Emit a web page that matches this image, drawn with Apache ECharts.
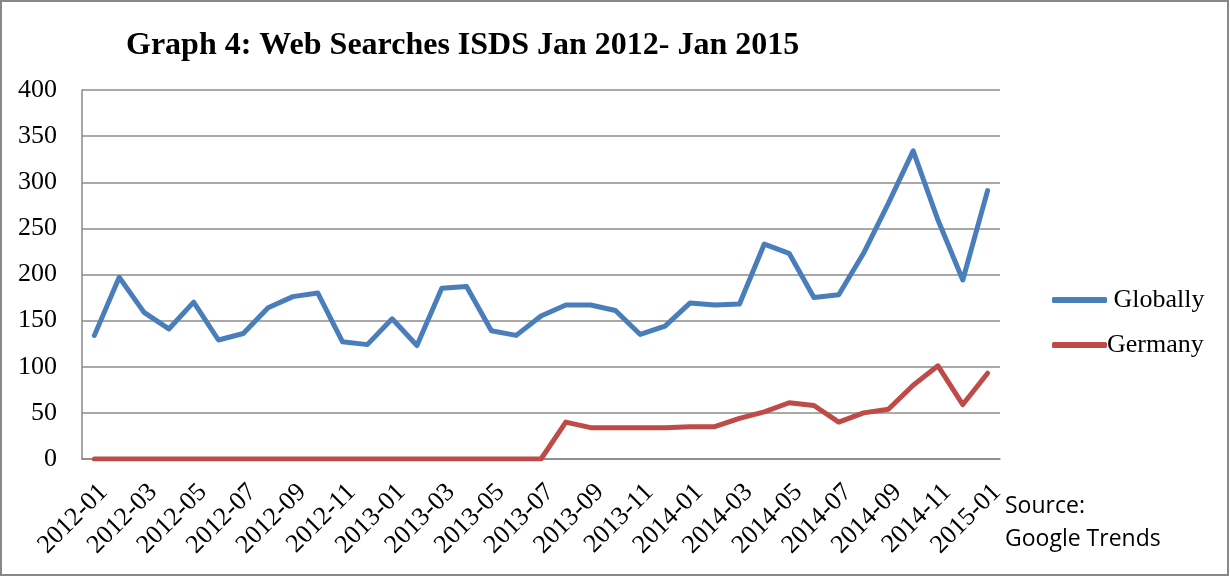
<!DOCTYPE html>
<html>
<head>
<meta charset="utf-8">
<script src="https://cdn.jsdelivr.net/npm/echarts@6/dist/echarts.min.js"></script>
<style>
  html, body { margin: 0; padding: 0; background: #fff; }
  #chart { width: 1230px; height: 577px; }
</style>
</head>
<body>
<div id="chart"></div>
<script>
// months 2012-01 .. 2015-01
var months = [
  '2012-01', '2012-02', '2012-03', '2012-04', '2012-05', '2012-06', '2012-07', '2012-08', '2012-09', '2012-10', '2012-11', '2012-12',
  '2013-01', '2013-02', '2013-03', '2013-04', '2013-05', '2013-06', '2013-07', '2013-08', '2013-09', '2013-10', '2013-11', '2013-12',
  '2014-01', '2014-02', '2014-03', '2014-04', '2014-05', '2014-06', '2014-07', '2014-08', '2014-09', '2014-10', '2014-11', '2014-12',
  '2015-01'
];
var globally = [
  134, 197, 159, 141, 170, 129, 136, 164, 176, 180, 127, 124,
  152, 123, 185, 187, 139, 134, 155, 167, 167, 161, 135, 144,
  169, 167, 168, 233, 223, 175, 178, 223, 277, 334, 259, 194,
  291
];
var germany = [
  0, 0, 0, 0, 0, 0, 0, 0, 0, 0, 0, 0,
  0, 0, 0, 0, 0, 0, 0, 40, 34, 34, 34, 34,
  35, 35, 44, 51, 61, 58, 40, 50, 54, 80, 101, 59,
  93
];
var yTicks = [0, 400, 50];

var myChart = echarts.init(document.getElementById('chart'));

var serif = '"Liberation Serif", "Times New Roman", serif';

var option = {
    animation: false,
    title: {
        text: 'Graph 4: Web Searches ISDS Jan 2012- Jan 2015',
        left: 121,
        top: 25,
        textStyle: {
            fontFamily: serif,
            fontSize: 32,
            fontWeight: 'bold',
            color: '#000'
        }
    },
    legend: {
        orient: 'vertical',
        left: 1047,
        top: 282,
        icon: 'roundRect',
        itemWidth: 55,
        itemHeight: 6,
        itemGap: 19,
        formatter: function (name) {
            return name === 'Globally' ? ' ' + name : name;
        },
        textStyle: {
            fontFamily: serif,
            fontSize: 26,
            color: '#000',
            padding: [0, 0, 0, -5]
        },
        data: ['Globally', 'Germany']
    },
    grid: {
        left: 82,
        right: 230,
        top: 90,
        bottom: 118
    },
    xAxis: {
        type: 'category',
        data: months,
        boundaryGap: true,
        axisLine: { show: true, lineStyle: { color: '#888', width: 1.5 } },
        axisTick: { show: false },
        axisLabel: {
            interval: 1,
            rotate: 45,
            margin: 20,
            verticalAlign: 'top',
            fontFamily: serif,
            fontSize: 26,
            color: '#000'
        }
    },
    yAxis: {
        type: 'value',
        min: yTicks[0],
        max: yTicks[1],
        interval: yTicks[2],
        axisLine: { show: true, lineStyle: { color: '#888', width: 1.5 } },
        axisTick: { show: false },
        splitLine: { show: true, lineStyle: { color: '#8c8c8c', width: 1.5 } },
        axisLabel: {
            margin: 25,
            fontFamily: serif,
            fontSize: 26,
            color: '#000'
        }
    },
    series: [
        {
            name: 'Globally',
            type: 'line',
            data: globally,
            symbol: 'none',
            color: '#4a7ebb',
            lineStyle: { color: '#4a7ebb', width: 5, cap: 'round', join: 'round' }
        },
        {
            name: 'Germany',
            type: 'line',
            data: germany,
            symbol: 'none',
            color: '#be4b48',
            lineStyle: { color: '#be4b48', width: 5, cap: 'round', join: 'round' }
        }
    ],
    graphic: [
        {
            type: 'rect',
            shape: { x: 1, y: 1, width: 1227, height: 574 },
            style: { fill: 'none', stroke: '#888', lineWidth: 2 }
        },
        {
            type: 'text',
            left: 1005,
            top: 490,
            style: {
                text: 'Source:\nGoogle Trends',
                fontFamily: '"Open Sans", "Liberation Sans", sans-serif',
                fontSize: 23,
                lineHeight: 33,
                fill: '#000'
            }
        }
    ]
};
myChart.setOption(option);

window.addEventListener('resize', function () {
    myChart.resize();
});
</script>
</body>
</html>
